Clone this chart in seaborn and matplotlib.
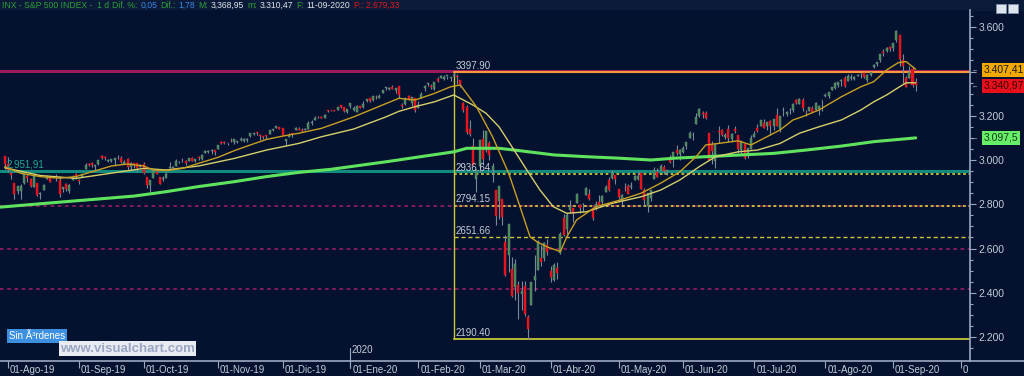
import numpy as np
import pandas as pd
import matplotlib
matplotlib.use('Agg')
import matplotlib.pyplot as plt
from matplotlib.patches import Rectangle
import seaborn as sns

# ---- datos diarios S&P 500 (31-Jul-19 .. 11-Sep-20), una fila por mes ----
opens = [3016,
    2980, 2943, 2898, 2861, 2858, 2897, 2930, 2916, 2880, 2895, 2847, 2864, 2913, 2920, 2922, 2930, 2911, 2867, 2893, 2862, 2910, 2937,
    2909, 2925, 2960, 2980, 2988, 2971, 2982, 3018, 3013, 2996, 2996, 3001, 3010, 3008, 2984, 3003, 2969, 2985, 2985, 2967,
    2984, 2925, 2885, 2918, 2945, 2921, 2912, 2918, 2964, 2965, 2974, 2990, 3001, 2997, 2997, 3011, 2995, 3014, 3004, 3033, 3036, 3039, 3047,
    3051, 3079, 3081, 3076, 3087, 3082, 3081, 3090, 3084, 3090, 3107, 3118, 3128, 3114, 3108, 3112, 3118, 3134, 3146, 3147,
    3144, 3087, 3104, 3120, 3135, 3141, 3135, 3136, 3141, 3167, 3183, 3195, 3195, 3192, 3223, 3227, 3225, 3227, 3247, 3240, 3215,
    3245, 3226, 3218, 3242, 3238, 3266, 3281, 3272, 3285, 3282, 3303, 3324, 3321, 3330, 3316, 3334, 3248, 3255, 3290, 3256, 3282,
    3236, 3280, 3324, 3344, 3335, 3319, 3366, 3370, 3365, 3379, 3370, 3380, 3380, 3360, 3258, 3238, 3140, 3063, 2916,
    2975, 3096, 3046, 3075, 2954, 2863, 2813, 2825, 2631, 2569, 2509, 2426, 2437, 2393, 2431, 2291, 2345, 2458, 2501, 2556, 2559, 2614,
    2499, 2458, 2514, 2578, 2739, 2686, 2776, 2782, 2805, 2796, 2800, 2842, 2845, 2785, 2787, 2810, 2812, 2854, 2910, 2919, 2931,
    2869, 2815, 2869, 2883, 2879, 2909, 2915, 2940, 2865, 2794, 2829, 2913, 2948, 2953, 2970, 2948, 3004, 3015, 3046, 3025,
    3038, 3065, 3098, 3112, 3163, 3199, 3213, 3213, 3123, 3072, 2994, 3131, 3137, 3102, 3140, 3095, 3138, 3115, 3047, 3073, 3018, 3050,
    3105, 3143, 3155, 3166, 3154, 3176, 3152, 3205, 3141, 3225, 3209, 3225, 3224, 3269, 3255, 3271, 3219, 3220, 3235, 3228, 3232, 3270,
    3288, 3289, 3318, 3324, 3340, 3357, 3370, 3356, 3372, 3368, 3380, 3388, 3393, 3360, 3386, 3419, 3435, 3450, 3486, 3494, 3509,
    3507, 3543, 3565, 3453, 3371, 3369, 3413, 3353]
highs = [3017,
    3013, 2945, 2898, 2884, 2892, 2938, 2935, 2918, 2943, 2895, 2856, 2893, 2932, 2924, 2928, 2939, 2928, 2879, 2898, 2891, 2931, 2940,
    2915, 2938, 2985, 2985, 2989, 2979, 3001, 3021, 3017, 3003, 3006, 3008, 3022, 3016, 2999, 3007, 2989, 2988, 2988, 2984,
    2993, 2925, 2911, 2953, 2959, 2925, 2930, 2948, 2993, 2973, 3004, 2997, 3008, 3000, 3007, 3014, 3005, 3017, 3028, 3044, 3047, 3050, 3047,
    3067, 3084, 3084, 3079, 3098, 3094, 3088, 3102, 3098, 3098, 3121, 3124, 3128, 3119, 3110, 3113, 3134, 3142, 3155, 3150,
    3144, 3095, 3120, 3120, 3150, 3149, 3143, 3143, 3176, 3182, 3198, 3198, 3199, 3206, 3226, 3228, 3226, 3240, 3248, 3241, 3231,
    3258, 3246, 3247, 3245, 3267, 3275, 3282, 3288, 3295, 3299, 3317, 3330, 3329, 3337, 3327, 3334, 3259, 3285, 3293, 3286, 3282,
    3268, 3306, 3337, 3347, 3342, 3352, 3375, 3382, 3385, 3381, 3375, 3393, 3390, 3360, 3260, 3247, 3182, 3098, 2959,
    3091, 3137, 3130, 3084, 2985, 2863, 2882, 2825, 2660, 2711, 2562, 2553, 2454, 2453, 2453, 2300, 2450, 2572, 2638, 2615, 2631, 2642,
    2522, 2534, 2539, 2676, 2757, 2761, 2819, 2782, 2851, 2802, 2807, 2880, 2868, 2785, 2815, 2844, 2842, 2887, 2922, 2955, 2931,
    2869, 2845, 2897, 2891, 2902, 2932, 2945, 2945, 2874, 2852, 2865, 2968, 2965, 2981, 2978, 2957, 3022, 3036, 3069, 3050,
    3063, 3081, 3130, 3128, 3211, 3233, 3223, 3223, 3123, 3088, 3079, 3154, 3141, 3121, 3156, 3120, 3155, 3115, 3086, 3073, 3054, 3111,
    3129, 3165, 3183, 3185, 3171, 3180, 3187, 3236, 3200, 3238, 3221, 3234, 3259, 3278, 3279, 3280, 3227, 3241, 3243, 3263, 3250, 3272,
    3302, 3307, 3331, 3352, 3353, 3364, 3381, 3387, 3387, 3378, 3388, 3395, 3399, 3391, 3399, 3433, 3444, 3481, 3501, 3509, 3514,
    3529, 3588, 3565, 3479, 3379, 3425, 3425, 3369]
lows = [2958,
    2946, 2914, 2823, 2848, 2826, 2891, 2900, 2880, 2877, 2839, 2825, 2864, 2913, 2900, 2917, 2904, 2834, 2857, 2860, 2853, 2910, 2914,
    2891, 2921, 2960, 2973, 2969, 2957, 2976, 3004, 3002, 2991, 2993, 2979, 3003, 2985, 2982, 2957, 2953, 2963, 2946, 2967,
    2938, 2874, 2856, 2918, 2935, 2892, 2907, 2918, 2963, 2962, 2974, 2986, 2991, 2977, 2995, 2996, 2991, 3001, 3002, 3033, 3032, 3026, 3024,
    3051, 3073, 3073, 3066, 3080, 3073, 3076, 3085, 3083, 3083, 3104, 3113, 3112, 3091, 3095, 3097, 3118, 3131, 3144, 3140,
    3111, 3070, 3103, 3103, 3134, 3135, 3126, 3134, 3138, 3157, 3183, 3191, 3191, 3191, 3216, 3222, 3220, 3227, 3235, 3215, 3213,
    3235, 3222, 3215, 3233, 3236, 3264, 3260, 3268, 3277, 3281, 3302, 3318, 3316, 3320, 3302, 3281, 3234, 3250, 3271, 3242, 3215,
    3236, 3280, 3313, 3334, 3322, 3317, 3353, 3370, 3361, 3367, 3356, 3378, 3342, 3328, 3215, 3118, 3109, 2977, 2855,
    2945, 2977, 3034, 2999, 2901, 2708, 2734, 2707, 2478, 2492, 2381, 2367, 2281, 2320, 2296, 2192, 2345, 2408, 2501, 2521, 2545, 2572,
    2447, 2455, 2460, 2574, 2657, 2664, 2762, 2721, 2805, 2761, 2764, 2842, 2821, 2728, 2776, 2795, 2798, 2854, 2860, 2913, 2892,
    2822, 2797, 2859, 2847, 2869, 2908, 2908, 2869, 2793, 2766, 2817, 2913, 2922, 2953, 2939, 2934, 2988, 2970, 3023, 2999,
    3032, 3052, 3098, 3091, 3163, 3193, 3191, 3185, 2999, 2984, 2966, 3076, 3109, 3093, 3083, 3083, 3123, 3033, 3024, 3005, 3010, 3048,
    3102, 3125, 3155, 3143, 3136, 3115, 3136, 3153, 3128, 3200, 3199, 3209, 3216, 3254, 3254, 3221, 3200, 3220, 3217, 3228, 3205, 3221,
    3285, 3282, 3317, 3319, 3329, 3335, 3328, 3356, 3363, 3361, 3379, 3371, 3369, 3354, 3379, 3414, 3424, 3444, 3469, 3490, 3494,
    3494, 3535, 3427, 3350, 3330, 3369, 3329, 3310]
closes = [2980,
    2954, 2932, 2845, 2882, 2884, 2938, 2919, 2883, 2926, 2841, 2848, 2889, 2924, 2901, 2924, 2923, 2847, 2878, 2869, 2888, 2925, 2926,
    2906, 2938, 2976, 2979, 2978, 2979, 3001, 3010, 3007, 2998, 3006, 3007, 3007, 2992, 2992, 2967, 2985, 2978, 2962, 2977,
    2940, 2888, 2911, 2952, 2939, 2893, 2919, 2938, 2970, 2966, 2996, 2990, 2998, 2986, 3007, 2996, 3005, 3010, 3023, 3039, 3037, 3047, 3038,
    3067, 3078, 3075, 3077, 3085, 3093, 3087, 3092, 3094, 3097, 3120, 3122, 3120, 3108, 3104, 3110, 3134, 3141, 3154, 3141,
    3114, 3093, 3113, 3117, 3146, 3136, 3133, 3142, 3169, 3169, 3191, 3193, 3191, 3205, 3221, 3224, 3223, 3240, 3240, 3221, 3231,
    3258, 3235, 3246, 3237, 3253, 3275, 3265, 3288, 3283, 3289, 3317, 3330, 3321, 3322, 3326, 3295, 3244, 3276, 3273, 3284, 3226,
    3249, 3298, 3335, 3346, 3328, 3352, 3358, 3379, 3374, 3380, 3370, 3386, 3373, 3338, 3226, 3128, 3116, 2979, 2954,
    3090, 3003, 3130, 3024, 2972, 2747, 2882, 2741, 2481, 2711, 2386, 2529, 2398, 2409, 2305, 2237, 2447, 2476, 2630, 2541, 2627, 2585,
    2471, 2527, 2489, 2664, 2659, 2750, 2790, 2762, 2846, 2783, 2800, 2875, 2823, 2737, 2799, 2798, 2837, 2878, 2863, 2940, 2912,
    2831, 2843, 2868, 2848, 2881, 2930, 2930, 2870, 2820, 2853, 2864, 2954, 2923, 2972, 2949, 2955, 2992, 3036, 3030, 3044,
    3056, 3081, 3123, 3112, 3194, 3232, 3207, 3190, 3002, 3041, 3067, 3125, 3113, 3115, 3098, 3118, 3131, 3050, 3084, 3009, 3053, 3100,
    3116, 3130, 3180, 3145, 3170, 3152, 3185, 3155, 3198, 3227, 3216, 3225, 3252, 3257, 3276, 3236, 3216, 3239, 3218, 3258, 3246, 3271,
    3295, 3307, 3328, 3349, 3351, 3360, 3334, 3380, 3373, 3373, 3382, 3390, 3375, 3386, 3397, 3431, 3444, 3479, 3485, 3508, 3500,
    3527, 3581, 3455, 3427, 3332, 3399, 3339, 3341]

# sesiones por mes (Ago-19 .. Sep-20) y etiquetas del eje
sessions_per_month = [22, 20, 23, 20, 21, 21, 19, 22, 21, 20, 22, 22, 21, 21]
month_labels = ['01-Ago-19', '01-Sep-19', '01-Oct-19', '01-Nov-19', '01-Dic-19', '01-Ene-20',
                '01-Feb-20', '01-Mar-20', '01-Abr-20', '01-May-20', '01-Jun-20', '01-Jul-20',
                '01-Ago-20', '01-Sep-20', '01-Oct-20']

# medias moviles (barra, valor)
fast_ma_bar = [-1, 4, 10, 16, 21, 26, 32, 37, 42, 45, 49, 54, 59, 65, 70, 75, 80, 85, 90, 97, 107, 117,
               121, 126, 132, 137, 140, 145, 150, 155, 158.5, 161.6, 163.7, 166.8, 171, 173, 176, 182,
               189.5, 196, 202, 208, 213, 216, 220, 226, 230, 234, 239, 243, 246, 251, 258, 264, 268,
               272, 275.6, 278, 281]
fast_ma_val = [2970, 2940, 2925, 2918, 2925, 2947, 2973, 2982, 2973, 2955, 2952, 2962, 2985, 3012, 3042,
               3068, 3093, 3108, 3121, 3143, 3195, 3255, 3279, 3271, 3301, 3331, 3339, 3241, 3105, 2940,
               2789, 2653, 2631, 2608, 2586, 2653, 2729, 2789, 2819, 2850, 2895, 2947, 3015, 3068, 3075,
               3087, 3068, 3098, 3136, 3181, 3196, 3226, 3286, 3331, 3354, 3407, 3440, 3445, 3410]
slow_ma_bar = [-1, 10, 21, 42, 49, 59, 70, 80, 90, 97, 107, 117, 121, 126, 132, 138, 144, 148, 152, 156,
               160.6, 164.7, 168.8, 173, 179, 187, 196, 202, 208, 214, 219, 226, 232, 239, 245, 251, 258,
               264, 268, 272, 276, 278, 281]
slow_ma_val = [2965, 2930, 2917, 2962, 2955, 2973, 3007, 3045, 3075, 3105, 3140, 3195, 3220, 3241, 3263,
               3294, 3248, 3211, 3150, 3060, 2955, 2864, 2789, 2759, 2766, 2804, 2834, 2864, 2910, 2970,
               3015, 3037, 3045, 3075, 3121, 3150, 3181, 3226, 3263, 3294, 3331, 3349, 3349]
ma200_bar = [-2.5, 18, 39, 49, 59, 70, 80, 90, 100, 117, 138, 142, 152, 158.5, 169, 179, 189.5, 199, 206,
             216, 227, 237, 247, 258, 268, 281]
ma200_val = [2787, 2812, 2837, 2857, 2880, 2902, 2925, 2944, 2958, 2992, 3037, 3053, 3053, 3042, 3023,
             3015, 3008, 3000, 3008, 3015, 3023, 3030, 3045, 3063, 3083, 3100]

# niveles
fib_levels = [3397.90, 2936.64, 2794.15, 2651.66, 2190.40]
fib_start_bar = 138
purple_levels = [2790, 2598, 2415]
resist_level = 3404
teal_level = 2951.91

BG = '#04122f'
AXC = '#9aa8c0'
TXT = '#c4ccd8'

sns.set_style('dark', {'axes.facecolor': BG, 'figure.facecolor': BG})
plt.rcParams['font.family'] = ['Liberation Sans Narrow', 'Liberation Sans', 'DejaVu Sans']

W, H = 1024, 376
fig = plt.figure(figsize=(W / 100, H / 100), dpi=100)
ax = fig.add_axes([0, (H - 360.7) / H, 970 / W, 350.7 / H])
ax.set_facecolor(BG)
ax.set_xlim(-2.48, 297.8)
ax.set_ylim(2093, 3678)

df = pd.DataFrame({'open': opens, 'high': highs, 'low': lows, 'close': closes})
df['bar'] = np.arange(len(df)) - 1
df['up'] = df['close'] >= df['open']

# lineas horizontales
ax.axhline(resist_level, color='#9c1a5c', lw=2.2, zorder=1)
ax.axhline(teal_level, color='#138a7e', lw=2.2, zorder=1)
for lv in purple_levels:
    ax.axhline(lv, color='#8e1d60', lw=1.3, ls=(0, (2, 2)), zorder=1)

# fibonacci
fib_col = '#c9c43a'
x_end = ax.get_xlim()[1]
ax.plot([fib_start_bar, x_end], [fib_levels[0]] * 2, color='#f59a3c', lw=1.5, zorder=2)
ax.plot([fib_start_bar, x_end], [fib_levels[1]] * 2, color=fib_col, lw=1.3, ls=(0, (1.5, 1.5)), zorder=2)
ax.plot([fib_start_bar, x_end], [fib_levels[2]] * 2, color=fib_col, lw=1.3, ls=(0, (1.5, 1.5)), zorder=2)
ax.plot([fib_start_bar, x_end], [fib_levels[3]] * 2, color=fib_col, lw=1.0, ls=(0, (3, 2)), zorder=2)
ax.plot([fib_start_bar, x_end], [fib_levels[4]] * 2, color=fib_col, lw=1.3, zorder=2)
ax.plot([fib_start_bar, fib_start_bar], [fib_levels[4], fib_levels[0]], color=fib_col, lw=1.0, zorder=2)
for lv in fib_levels:
    ax.annotate(f'{lv:.2f}', (fib_start_bar, lv), xytext=(1.5, 1), textcoords='offset points',
                ha='left', va='bottom', fontsize=7, color=TXT, zorder=6)
ax.annotate('2.951,91', (-2.2, teal_level), xytext=(4, 1), textcoords='offset points',
            ha='left', va='bottom', fontsize=7, color='#22a890', zorder=6)

# velas
ax.vlines(df['bar'], df['low'], df['high'], color='#7a889c', lw=0.8, zorder=3)
for up, col in [(True, '#3e8e45'), (False, '#e8141c')]:
    d = df[df['up'] == up]
    body = (d['close'] - d['open']).abs().clip(lower=3)
    ax.bar(d['bar'], body, bottom=d[['open', 'close']].min(axis=1), width=0.62,
           color=col, edgecolor='#7a889c' if up else col, lw=0.3, zorder=4)

# medias
sns.lineplot(x=ma200_bar, y=ma200_val, ax=ax, color='#5fe35f', lw=2.2, sort=False, estimator=None, zorder=5)
sns.lineplot(x=slow_ma_bar, y=slow_ma_val, ax=ax, color='#d6cf6a', lw=1.0, sort=False, estimator=None, zorder=5)
sns.lineplot(x=fast_ma_bar, y=fast_ma_val, ax=ax, color='#c99f22', lw=1.0, sort=False, estimator=None, zorder=5)

# ejes
for s in ['left', 'top']:
    ax.spines[s].set_visible(False)
for s in ['right', 'bottom']:
    ax.spines[s].set_visible(True)
    ax.spines[s].set_color(AXC)
    ax.spines[s].set_linewidth(1.2)
ax.grid(False)
ax.yaxis.tick_right()
ax.set_yticks(np.arange(2200, 3601, 200))
ax.set_yticks(np.arange(2150, 3651, 50), minor=True)
# el 3.400 queda tapado por la etiqueta naranja
ax.yaxis.set_major_formatter(matplotlib.ticker.FuncFormatter(
    lambda v, p: '' if round(v) == 3400 else f'{v / 1000:.3f}'))
ax.tick_params(axis='y', which='major', length=4, width=0.8, color=AXC, labelcolor=TXT,
               labelsize=7.5, pad=2, right=True, left=False)
ax.tick_params(axis='y', which='minor', length=2, width=0.8, color=AXC, right=True, left=False)
fig.add_artist(plt.Line2D([970 / W, 1], [(H - 360.7) / H] * 2, transform=fig.transFigure, color=AXC, lw=1.2))

month_pos = np.concatenate([[0], np.cumsum(sessions_per_month)])
ax.set_xticks(month_pos)
ax.set_xticklabels([])
ax.tick_params(axis='x', length=5, width=0.8, color=AXC, bottom=True)
for p, lab in zip(month_pos, month_labels):
    ax.text(p + 0.6, -0.027, lab, transform=ax.get_xaxis_transform(), ha='left', va='center',
            fontsize=7, color=TXT, clip_on=False)
ax.plot([106, 106], [-0.02, 0.035], transform=ax.get_xaxis_transform(), color=AXC, lw=0.8, clip_on=False)
ax.text(106.5, 0.03, '2020', transform=ax.get_xaxis_transform(), ha='left', va='center',
        fontsize=7, color=TXT)


def px(x, y):
    return x / W, 1 - y / H


# la ultima etiqueta queda cortada por el borde del grafico
fig.add_artist(Rectangle(px(968, 376), 56 / W, 13.5 / H, transform=fig.transFigure,
                         facecolor=BG, edgecolor='none', zorder=10))

# cabecera
fig.add_artist(Rectangle((0, 1 - 10 / H), 1, 10 / H, transform=fig.transFigure, color='#0a1a38', zorder=0))
header = [('INX - S&P 500 INDEX -  1 d', '#2e9e35'), ('Dif. %:', '#2e9e35'), ('0,05', '#3a86e0'),
          ('Dif.:', '#2e9e35'), ('1,78', '#3a86e0'), ('M:', '#2e9e35'), ('3,368,95', '#e0e4ea'),
          ('m:', '#2e9e35'), ('3.310,47', '#e0e4ea'), ('F:', '#2e9e35'), ('11-09-2020', '#e0e4ea'),
          ('P.: 2.679,33', '#e01818')]
renderer = fig.canvas.get_renderer()
hx = 2
for s, c in header:
    t = fig.text(*px(hx, 5), s, fontsize=6.2, color=c, ha='left', va='center')
    hx += t.get_window_extent(renderer).width + 3
for x0 in [996, 1008]:
    fig.add_artist(Rectangle(px(x0, 13), 10 / W, 9 / H, transform=fig.transFigure,
                             facecolor='#dfe5ee', edgecolor='#8090a8', lw=0.6))

# etiquetas del eje derecho
tags = [(70, '3.407,41', '#f2a900', '#1a1a1a'), (86, '3.340,97', '#e8101a', '#3a0000'),
        (138, '3.097,5', '#66ee66', '#1a3a1a')]
for y, s, bg, fg in tags:
    fig.text(*px(984, y), s, fontsize=7.5, color=fg, ha='left', va='center',
             bbox=dict(boxstyle='square,pad=0.15', facecolor=bg, edgecolor='none'))
    fig.text(*px(971.5, y), '\u2190', fontsize=4.5, color=TXT, ha='left', va='center')

# marcas inferiores
fig.text(*px(9, 336), 'Sin \u00c3\u00b3rdenes', fontsize=7, color='white', ha='left', va='center',
         bbox=dict(boxstyle='square,pad=0.2', facecolor='#3d8fe0', edgecolor='none'))
fig.text(*px(60, 348.5), 'www.visualchart.com', fontsize=9.5, color='#9aa6c2', ha='left', va='center',
         fontweight='bold', bbox=dict(boxstyle='square,pad=0.1', facecolor='#e8ebf2', edgecolor='none'))

fig.savefig('out.png', dpi=100, facecolor=BG)
